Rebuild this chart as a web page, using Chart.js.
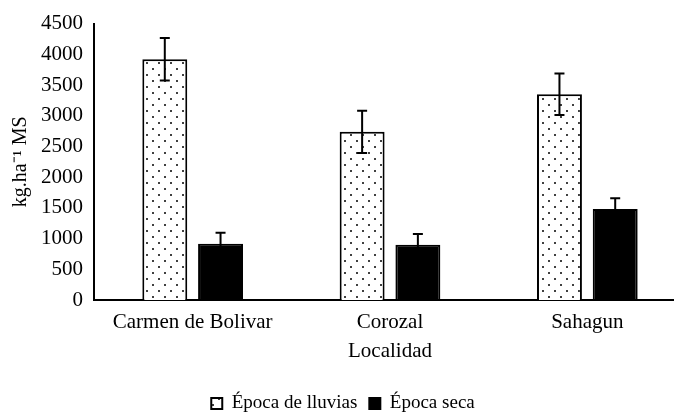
<!DOCTYPE html>
<html>
<head>
<meta charset="utf-8">
<script src="https://cdn.jsdelivr.net/npm/chart.js@4"></script>
<style>
  html, body { margin: 0; padding: 0; background: #fff; }
  .wrap { width: 674px; height: 415px; overflow: hidden; }
</style>
</head>
<body>
<div class="wrap"><canvas id="grafico" width="700" height="415"></canvas></div>
<script>
const localidades = ['Carmen de Bolivar', 'Corozal', 'Sahagun'];
const epocaLluvias = [3920, 2738, 3350];
const errorLluvias = [345, 345, 338];
const epocaSeca = [915, 898, 1480];
const errorSeca = [178, 178, 178];

Chart.defaults.font.family = '"Liberation Serif", "Times New Roman", serif';
Chart.defaults.color = '#000';

// dotted fill like the original
function patronPuntos() {
  const c = document.createElement('canvas');
  c.width = 12; c.height = 12;
  const p = c.getContext('2d');
  p.fillStyle = '#fff';
  p.fillRect(0, 0, 12, 12);
  p.fillStyle = '#000';
  [[3, 3], [9, 9]].forEach(([x, y]) => {
    p.beginPath();
    p.arc(x, y, 1, 0, Math.PI * 2);
    p.fill();
  });
  return p.createPattern(c, 'repeat');
}

const ctx = document.getElementById('grafico').getContext('2d');
const puntos = patronPuntos();

const barrasError = {
  id: 'barrasError',
  afterDatasetsDraw(chart) {
    const c = chart.ctx;
    const y = chart.scales.y;
    const errores = [errorLluvias, errorSeca];
    c.save();
    c.strokeStyle = '#000';
    c.lineWidth = 2;
    chart.data.datasets.forEach((ds, i) => {
      chart.getDatasetMeta(i).data.forEach((bar, j) => {
        const v = ds.data[j];
        const e = errores[i][j];
        const yTop = y.getPixelForValue(v + e);
        const yBot = y.getPixelForValue(v - e);
        c.beginPath();
        c.moveTo(bar.x, yTop); c.lineTo(bar.x, yBot);
        c.moveTo(bar.x - 5, yTop); c.lineTo(bar.x + 5, yTop);
        c.moveTo(bar.x - 5, yBot); c.lineTo(bar.x + 5, yBot);
        c.stroke();
      });
    });
    c.restore();
  }
};

new Chart(ctx, {
  type: 'bar',
  data: {
    labels: localidades,
    datasets: [{
      label: 'Época de lluvias',
      data: epocaLluvias,
      backgroundColor: puntos,
      borderColor: '#000',
      borderWidth: 2
    }, {
      label: 'Época seca',
      data: epocaSeca,
      backgroundColor: '#000',
      borderColor: '#000',
      borderWidth: 2
    }]
  },
  options: {
    responsive: false,
    animation: false,
    categoryPercentage: 0.565,
    barPercentage: 0.806,
    layout: { padding: { top: 20, right: 14, bottom: -8, left: 0 } },
    scales: {
      x: {
        grid: { display: false, drawTicks: false },
        border: { display: true, color: '#000', width: 2 },
        ticks: { font: { size: 21 }, padding: 10 },
        title: { display: true, text: 'Localidad', font: { size: 21 }, padding: { top: 0, bottom: 18 } },
        afterFit(s) { s.height = 82; }
      },
      y: {
        min: 0,
        max: 4500,
        grid: { display: false, drawTicks: false },
        border: { display: true, color: '#000', width: 2 },
        ticks: { stepSize: 500, font: { size: 21 }, padding: 11, callback: v => String(v) },
        title: { display: true, text: 'kg.ha⁻¹ MS', font: { size: 20 }, padding: { top: 9, bottom: 0 } },
        afterFit(s) { s.width = 94; }
      }
    },
    plugins: {
      legend: {
        position: 'bottom',
        labels: {
          boxWidth: 11,
          boxHeight: 11,
          padding: 12,
          font: { size: 19 }
        }
      },
      tooltip: { enabled: false }
    }
  },
  plugins: [barrasError]
});
</script>
</body>
</html>
